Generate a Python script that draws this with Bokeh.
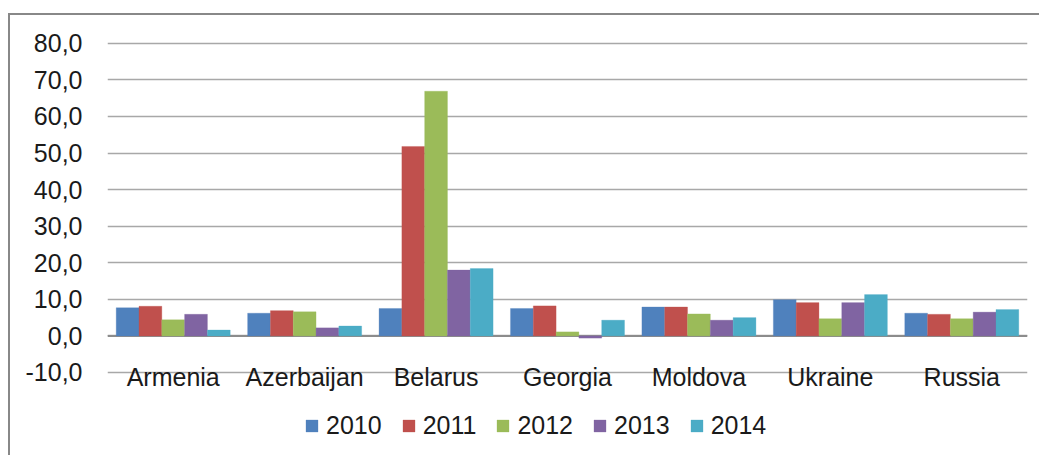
from bokeh.plotting import figure
from bokeh.models import (FactorRange, Range1d, FixedTicker, Legend, LegendItem,
                          Span, ColumnDataSource)
from bokeh.core.properties import value
from bokeh.transform import dodge
from bokeh.embed import file_html
from bokeh.resources import INLINE

countries = ["Armenia", "Azerbaijan", "Belarus", "Georgia", "Moldova", "Ukraine", "Russia"]
years = ["2010", "2011", "2012", "2013", "2014"]
v2010 = [7.7, 6.2, 7.5, 7.5, 7.9, 9.9, 6.2]
v2011 = [8.1, 6.9, 51.8, 8.2, 7.9, 9.1, 5.9]
v2012 = [4.4, 6.6, 66.9, 1.1, 6.0, 4.7, 4.7]
v2013 = [5.9, 2.2, 18.0, -0.6, 4.3, 9.1, 6.5]
v2014 = [1.6, 2.7, 18.4, 4.3, 5.0, 11.3, 7.2]
y_ticks = [-10, 0, 10, 20, 30, 40, 50, 60, 70, 80]
y_tick_labels = ["-10,0", "0,0", "10,0", "20,0", "30,0", "40,0", "50,0", "60,0", "70,0", "80,0"]

colors = ["#4F81BD", "#C0504D", "#9BBB59", "#8064A2", "#4BACC6"]
FONT = "Liberation Sans"
TEXT = "#1a1a1a"

source = ColumnDataSource(dict(country=countries, y2010=v2010, y2011=v2011,
                               y2012=v2012, y2013=v2013, y2014=v2014,
                               label_y=[y_ticks[0]] * len(countries)))

p = figure(width=1031, height=442, x_range=FactorRange(*countries),
           y_range=Range1d(-33.25, 80.5), output_backend="svg", toolbar_location=None,
           x_axis_location=None,
           min_border_left=97, min_border_right=14, min_border_top=26, min_border_bottom=0,
           margin=(13, 0, 0, 8),
           styles={"border-left": "2px solid #888888", "border-top": "2px solid #888888"})
p.outline_line_color = None
p.background_fill_color = "white"
p.border_fill_color = "white"

bw = 0.1735
renderers = []
for i, (yr, col) in enumerate(zip(years, colors)):
    r = p.vbar(x=dodge("country", (i - 2) * bw, range=p.x_range), top="y" + yr, bottom=0,
               width=bw, source=source, fill_color=col, line_color=col, line_alpha=0.6,
               line_width=0.5)
    renderers.append(r)

zero = Span(location=0, dimension="width", line_color="#8c8c8c", line_width=2, level="underlay")
p.add_layout(zero)

p.xgrid.visible = False
p.ygrid.ticker = FixedTicker(ticks=y_ticks)
p.ygrid.grid_line_color = "#a8a8a8"
p.ygrid.grid_line_width = 1.6

p.yaxis.ticker = FixedTicker(ticks=y_ticks)
p.yaxis.major_label_overrides = {float(t): l for t, l in zip(y_ticks, y_tick_labels)}
p.yaxis.axis_line_color = None
p.yaxis.major_tick_line_color = None
p.yaxis.minor_tick_line_color = None
p.yaxis.major_tick_out = 0
p.yaxis.major_label_standoff = 25
p.yaxis.major_label_text_font = FONT
p.yaxis.major_label_text_font_size = "25px"
p.yaxis.major_label_text_color = TEXT

# category labels sit on the bottom gridline, as in the reference
p.text(x="country", y="label_y", text="country", source=source, text_align="center",
       text_baseline="alphabetic", y_offset=5, text_font=value(FONT),
       text_font_size="25px", text_color=TEXT)

legend = Legend(items=[LegendItem(label=yr, renderers=[r]) for yr, r in zip(years, renderers)],
                orientation="horizontal", location=(197, 17), glyph_width=15, glyph_height=15,
                label_standoff=7, spacing=19, padding=0, margin=0, border_line_color=None,
                background_fill_alpha=0, label_text_font=FONT, label_text_font_size="25px",
                label_text_color=TEXT)
p.add_layout(legend, "center")

open("out.html", "w").write(file_html(p, INLINE))
